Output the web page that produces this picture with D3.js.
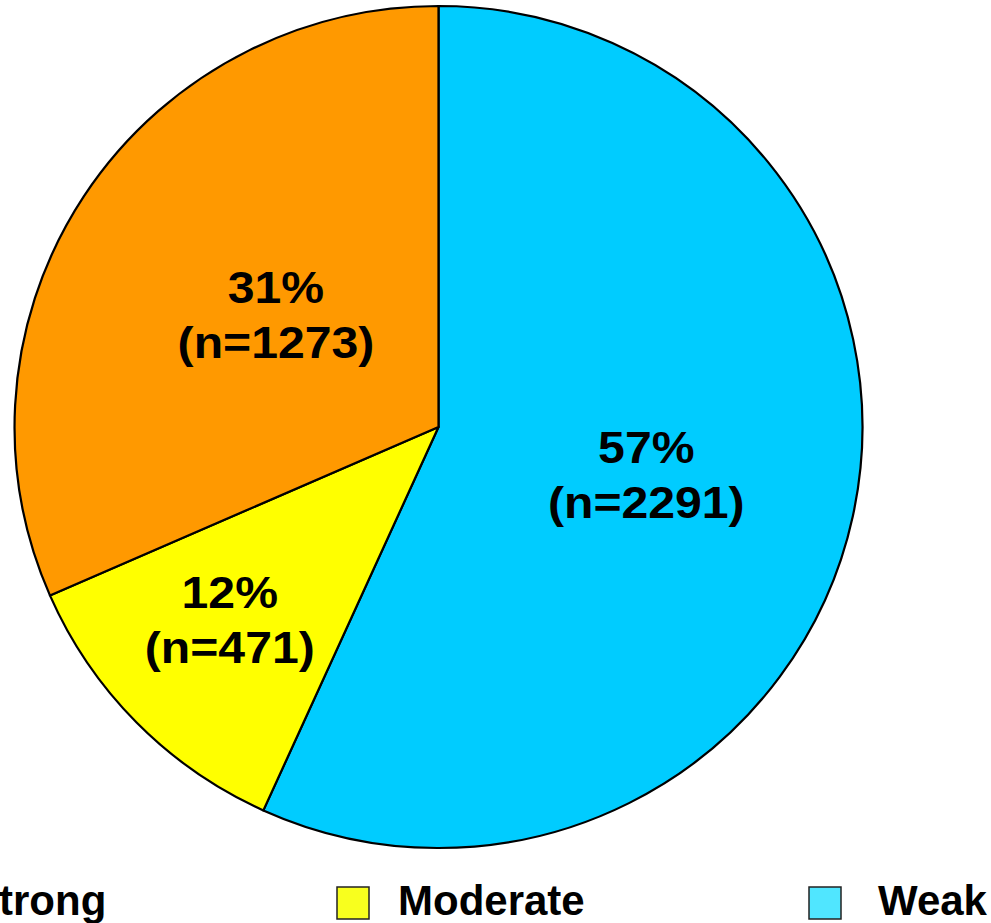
<!DOCTYPE html>
<html>
<head>
<meta charset="utf-8">
<script src="https://cdn.jsdelivr.net/npm/d3@7"></script>
<style>
  html, body { margin: 0; padding: 0; background: #fff; }
  svg { display: block; }
  text { font-family: "Liberation Sans", Arial, sans-serif; font-weight: bold; fill: #000; }
</style>
</head>
<body>
<svg id="chart" width="991" height="923"></svg>
<script>
// Association strength breakdown
const categories = ["Weak", "Moderate", "Strong"];
const counts = [2291, 471, 1273];
const percentLabels = ["57%", "12%", "31%"];
const sliceColors = ["#00CCFF", "#FFFF00", "#FF9900"];
const legendColors = ["#50E6FF", "#F8FF1E", "#FF9900"];
const legendOrder = ["Strong", "Moderate", "Weak"];

const svg = d3.select("#chart");
const cx = 438.5, cy = 427, radius = 421, stretchX = 1.007;

const pie = d3.pie().value(d => d.count).sort(null);
const arc = d3.arc().innerRadius(0).outerRadius(radius);

const rows = categories.map((c, i) => ({
  name: c, count: counts[i], pct: percentLabels[i], color: sliceColors[i]
}));
const arcs = pie(rows);

const g = svg.append("g").attr("transform", `translate(${cx},${cy}) scale(${stretchX},1)`);

g.selectAll("path.slice")
  .data(arcs)
  .join("path")
  .attr("class", "slice")
  .attr("d", arc)
  .attr("fill", d => d.data.color)
  .attr("stroke", "#000")
  .attr("stroke-width", 2.2)
  .attr("stroke-linejoin", "round");

// label placement: distance from the centre (fraction of radius)
// and a small turn (degrees) away from each slice's mid-angle
const labelDist = { Weak: 0.503, Moderate: 0.672, Strong: 0.467 };
const labelTurn = { Weak: 0.8, Moderate: 1.7, Strong: 1.6 };
const labelFont = 45;
const lineGap = 55;

const labels = svg.append("g");
arcs.forEach(a => {
  const name = a.data.name;
  const mid = (a.startAngle + a.endAngle) / 2 + labelTurn[name] * Math.PI / 180;
  const r = radius * labelDist[name];
  const x = cx + Math.sin(mid) * r * stretchX;
  const y = cy - Math.cos(mid) * r;
  // first baseline sits so the two-line block is centred on (x, y)
  const b1 = y - (lineGap - 0.716 * labelFont) / 2;
  const t = labels.append("g")
    .attr("transform", `translate(${x},0) scale(1.07,1)`)
    .append("text")
    .attr("text-anchor", "middle")
    .attr("font-size", labelFont);
  t.append("tspan").attr("x", 0).attr("y", b1).text(a.data.pct);
  t.append("tspan").attr("x", 0).attr("y", b1 + lineGap).text(`(n=${a.data.count})`);
});

// Legend along the bottom edge
const legendBoxX = { Strong: -93, Moderate: 337, Weak: 809 };
const legendTextX = { Strong: -29, Moderate: 398, Weak: 878 };
const legend = svg.append("g");
legendOrder.forEach(name => {
  const i = categories.indexOf(name);
  legend.append("rect")
    .attr("x", legendBoxX[name]).attr("y", 887)
    .attr("width", 32).attr("height", 32)
    .attr("fill", legendColors[i])
    .attr("stroke", "#222")
    .attr("stroke-width", 1.5);
  legend.append("text")
    .attr("x", legendTextX[name])
    .attr("y", 915)
    .attr("font-size", 42)
    .text(name);
});
</script>
</body>
</html>
